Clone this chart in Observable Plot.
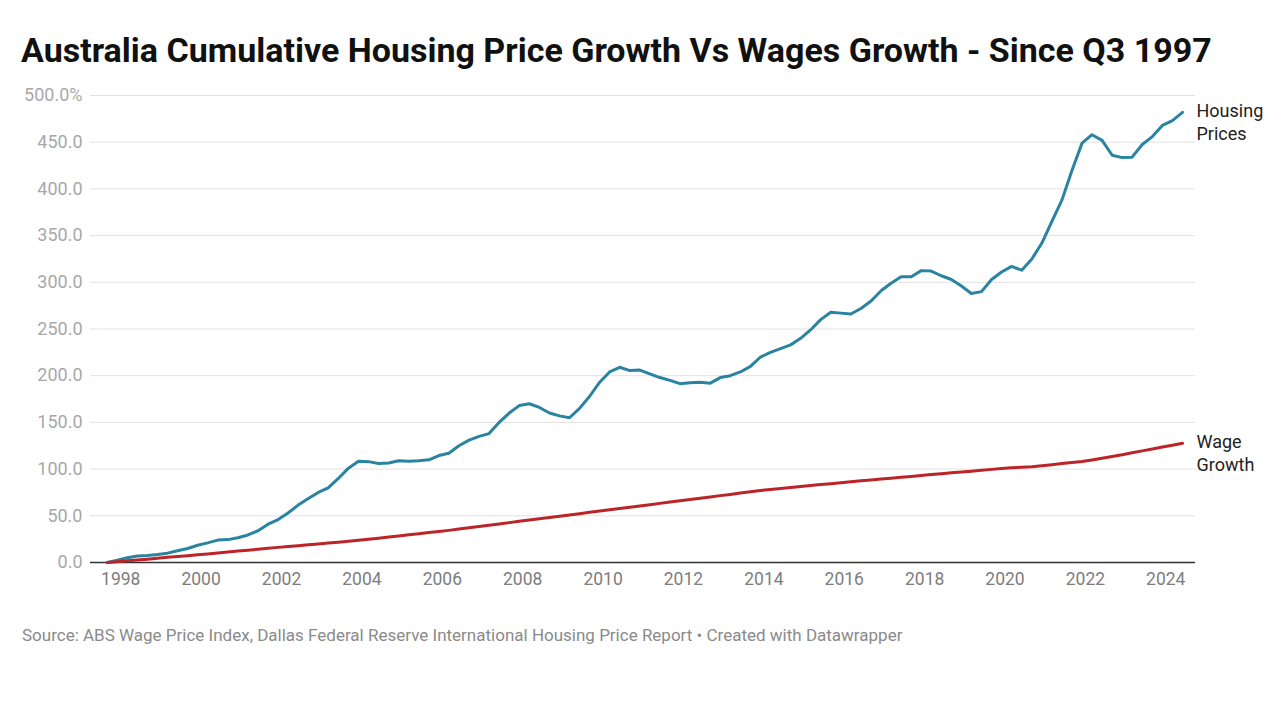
<!DOCTYPE html>
<html>
<head>
<meta charset="utf-8">
<script src="https://cdn.jsdelivr.net/npm/d3@7"></script>
<script src="https://cdn.jsdelivr.net/npm/@observablehq/plot@0.6"></script>
<style>
  html, body { margin: 0; padding: 0; background: #fff; }
  body { width: 1279px; height: 720px; overflow: hidden; font-family: Roboto, "Noto Sans", sans-serif; }
  #title { height: 80px; box-sizing: border-box; padding: 30px 0 0 21px; font-size: 34px; line-height: 40px; font-weight: 700; color: #111; white-space: nowrap; }
  #chart svg { display: block; }
  #source { padding: 15px 0 0 22px; font-size: 17px; color: #8a8a8a; white-space: nowrap; }
</style>
</head>
<body>
<div id="title">Australia Cumulative Housing Price Growth Vs Wages Growth - Since Q3 1997</div>
<div id="chart"></div>
<div id="source">Source: ABS Wage Price Index, Dallas Federal Reserve International Housing Price Report • Created with Datawrapper</div>
<script>
// Quarterly series, Q3 1997 .. Q2 2024 (cumulative growth, %)
const firstQuarter = { year: 1997, quarter: 3 };
const seriesNames = ["Housing Prices", "Wage Growth"];
const housingPrices = [
  0, 2.5, 5, 7, 7.5, 8.5, 10, 12.5, 15, 18.5,            // 1997Q3-1999Q4
  21, 24, 24.5, 26.5, 29.5, 34, 41, 46,                  // 2000-2001
  53, 61.5, 68.5, 75, 80, 90, 101, 108.5,                // 2002-2003
  108, 106, 106.5, 109, 108.5, 109, 110, 114.5,          // 2004-2005
  117, 125, 131, 135, 138, 150, 160, 168,                // 2006-2007
  170, 166, 160, 157, 155, 165, 178, 193,                // 2008-2009
  204, 209, 205.5, 206, 202, 198, 195, 191.5,            // 2010-2011
  192.5, 193, 192, 198, 200, 204, 210, 220,              // 2012-2013
  225, 229, 233, 240, 249, 260, 268, 267,                // 2014-2015
  266, 272, 280, 291, 299, 306, 306, 312.5,              // 2016-2017
  312, 307, 303, 296, 288, 290, 303, 311,                // 2018-2019
  317, 313, 325, 342, 365, 388, 420, 449,                // 2020-2021
  458, 452, 436, 433.5, 434, 447.5, 456, 468,            // 2022-2023
  473, 482                                               // 2024Q1-Q2
];
const wageGrowth = [
  0, 0.9, 1.8, 2.7, 3.6, 4.6, 5.5, 6.4, 7.3, 8.2,
  9.2, 10.2, 11.2, 12.2, 13.2, 14.2, 15.2, 16.2,
  17.1, 18.0, 19.0, 19.9, 20.9, 21.8, 22.8, 23.7,
  24.8, 26.0, 27.2, 28.4, 29.6, 30.8, 32.0, 33.1,
  34.4, 35.8, 37.2, 38.6, 39.9, 41.3, 42.7, 44.1,
  45.4, 46.8, 48.2, 49.6, 50.9, 52.3, 53.7, 55.1,
  56.4, 57.8, 59.2, 60.6, 61.9, 63.3, 64.7, 66.1,
  67.4, 68.8, 70.2, 71.6, 72.9, 74.3, 75.7, 77.1,
  78.2, 79.2, 80.3, 81.3, 82.4, 83.4, 84.4, 85.5,
  86.4, 87.4, 88.3, 89.3, 90.2, 91.2, 92.2, 93.2,
  94.1, 95.0, 96.0, 96.9, 97.8, 98.8, 99.7, 100.7,
  101.4, 101.9, 102.5, 103.6, 104.7, 105.9, 107.0, 108.1,
  109.8, 111.6, 113.5, 115.4, 117.4, 119.5, 121.5, 123.6,
  125.6, 127.7
];
const yTicks = [0, 50, 100, 150, 200, 250, 300, 350, 400, 450, 500];
const xTickYears = [1998, 2000, 2002, 2004, 2006, 2008, 2010, 2012, 2014, 2016, 2018, 2020, 2022, 2024];
const xDomain = ["1997-04-01", "2024-09-27"];
const seriesColors = ["#2a83a0", "#bd2428"];
const labelLines = ["Housing\nPrices", "Wage\nGrowth"];

// quarter -> date (first day of the quarter's last month)
const quarterDate = i => new Date(Date.UTC(firstQuarter.year, (firstQuarter.quarter - 1) * 3 + 2 + 3 * i, 1));
const rows = [];
[housingPrices, wageGrowth].forEach((vals, s) => {
  vals.forEach((v, i) => rows.push({ series: seriesNames[s], date: quarterDate(i), value: v }));
});
const lastRows = [housingPrices, wageGrowth].map((vals, s) => ({
  series: seriesNames[s], date: quarterDate(vals.length - 1), value: vals[vals.length - 1], label: labelLines[s]
}));

const chart = Plot.plot({
  width: 1279,
  height: 530,
  marginLeft: 90,
  marginRight: 84,
  marginTop: 15,
  marginBottom: 48,
  style: { fontFamily: "Roboto, 'Noto Sans', sans-serif", fontSize: "17px", background: "#fff", overflow: "visible" },
  x: { type: "utc", domain: xDomain.map(d => new Date(d)) },
  y: { domain: [0, 500] },
  color: { domain: seriesNames, range: seriesColors },
  marks: [
    Plot.gridY(yTicks, { stroke: "#e2e2e2", strokeOpacity: 1, strokeWidth: 1 }),
    Plot.axisY(yTicks, {
      tickSize: 0, tickPadding: 8, label: null, color: "#a8a8a8", fontSize: 18,
      tickFormat: d => d === 500 ? "500.0%" : d.toFixed(1)
    }),
    Plot.axisX(xTickYears.map(y => new Date(Date.UTC(y, 0, 1))), {
      tickSize: 0, tickPadding: 10, label: null, color: "#7d7d7d", fontSize: 17.5,
      tickFormat: d3.utcFormat("%Y")
    }),
    Plot.ruleY([0], { stroke: "#333", strokeWidth: 1.6 }),
    Plot.line(rows, { x: "date", y: "value", z: "series", stroke: "series", strokeWidth: 3, curve: "linear" }),
    Plot.text(lastRows, {
      x: "date", y: "value", text: "label", textAnchor: "start", lineAnchor: "top",
      dx: 14, dy: -11, fontSize: 18, lineHeight: 1.25, fill: "#222"
    })
  ]
});
document.getElementById("chart").append(chart);
</script>
</body>
</html>
